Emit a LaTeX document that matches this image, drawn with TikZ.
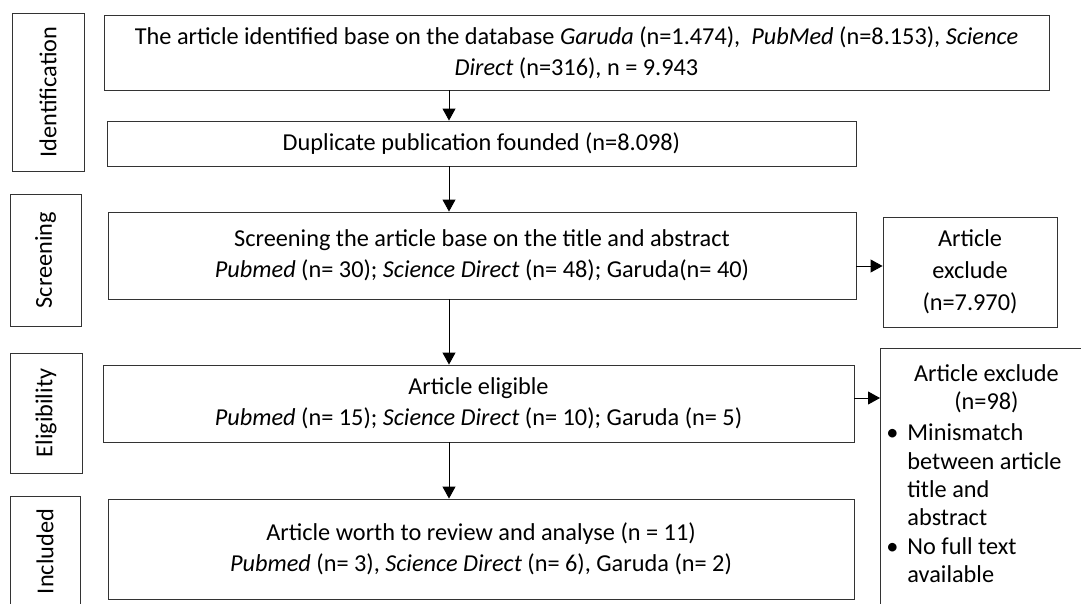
\documentclass[tikz,border=0pt]{standalone}
\usepackage{fontspec}
\setmainfont{Carlito}
\usetikzlibrary{arrows.meta,positioning,calc}

\begin{document}
\begin{tikzpicture}[
    x=1pt, y=-1pt,
    >={Triangle[length=12pt,width=13pt]},
    arr/.style={->, line width=0.9pt},
    flowbox/.style={draw=black!80, line width=0.9pt, align=center, inner sep=2pt,
                    font=\fontsize{24.3}{31}\selectfont},
    phase/.style={flowbox, rotate=90}
]
    \useasboundingbox (0,0) rectangle (1081,603);
    \clip (0,0) rectangle (1081,603);

    % phase labels on the left
    \node[phase, minimum width=158pt, minimum height=72pt] (ident) at (48,92) {Identification};
    \node[phase, minimum width=132pt, minimum height=71pt] (scr)   at (45.5,260) {Screening};
    \node[phase, minimum width=120pt, minimum height=72pt] (elig)  at (46,413) {Eligibility};
    \node[phase, minimum width=200pt, minimum height=70pt, anchor=east] (incl) at (45,496) {\hspace*{90pt}Included};

    % main column
    \node[flowbox, minimum width=945pt, minimum height=75pt] (b1) at (576.5,52.5)
        {The article identified base on the database \textit{Garuda} (n=1.474), \ \textit{PubMed} (n=8.153), \textit{Science}\\
         \textit{Direct} (n=316), n = 9.943};
    \node[flowbox, minimum width=749pt, minimum height=45pt] (b2) at (481.5,143.5)
        {Duplicate publication founded (n=8.098)};
    \node[flowbox, minimum width=748pt, minimum height=87pt] (b3) at (482,255.5)
        {Screening the article base on the title and abstract\\
         \textit{Pubmed} (n= 30); \textit{Science Direct} (n= 48); Garuda(n= 40)};
    \node[flowbox, minimum width=751pt, minimum height=77pt] (b4) at (478.5,403.5)
        {Article eligible\\
         \textit{Pubmed} (n= 15); \textit{Science Direct} (n= 10); Garuda (n= 5)};
    \node[flowbox, minimum width=746pt, minimum height=100pt] (b5) at (481,549)
        {Article worth to review and analyse (n = 11)\\
         \textit{Pubmed} (n= 3), \textit{Science Direct} (n= 6), Garuda (n= 2)};

    % excluded records
    \node[flowbox, minimum width=174pt, minimum height=110pt,
          font=\fontsize{24.3}{32}\selectfont] (x1) at (970,272)
        {Article\\exclude\\(n=7.970)};
    \node[flowbox, anchor=north west, align=left, inner xsep=6pt, inner ysep=16pt,
          font=\fontsize{24.3}{28.3}\selectfont] (x2) at (880,348)
        {\makebox[200pt]{Article exclude}\\
         \makebox[200pt]{(n=98)}\\[3pt]
         \makebox[21pt][l]{\textbullet}Minismatch\\
         \hspace*{21pt}between article\\
         \hspace*{21pt}title and\\
         \hspace*{21pt}abstract\\
         \makebox[21pt][l]{\textbullet}No full text\\
         \hspace*{21pt}available\\[20pt]};

    % connectors
    \coordinate (ax) at (449,0);
    \draw[arr] (b1.south -| ax) -- (b2.north -| ax);
    \draw[arr] (b2.south -| ax) -- (b3.north -| ax);
    \draw[arr] (b3.south -| ax) -- (b4.north -| ax);
    \draw[arr] (b4.south -| ax) -- (b5.north -| ax);
    \draw[arr] ([yshift=-10.5pt]b3.east) -- ([yshift=-10.5pt]b3.east -| x1.west);
    \draw[arr] ([yshift=5.5pt]b4.east) -- ([yshift=5.5pt]b4.east -| x2.west);
\end{tikzpicture}
\end{document}
